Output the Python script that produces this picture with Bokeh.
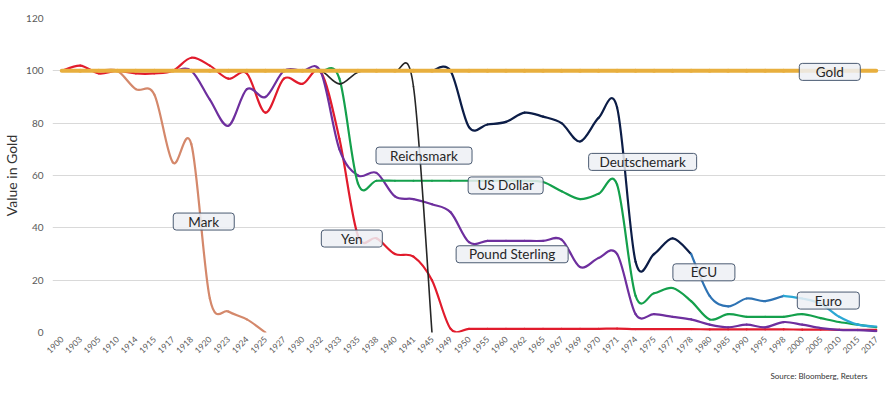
import math
from bokeh.plotting import figure
from bokeh.models import Range1d, FixedTicker, Title, ColumnDataSource
from bokeh.core.properties import value
from bokeh.embed import file_html
from bokeh.resources import INLINE

years = ["1900", "1903", "1905", "1910", "1914", "1915", "1917", "1918", "1920", "1923",
         "1924", "1925", "1927", "1930", "1932", "1933", "1935", "1938", "1940", "1941",
         "1945", "1949", "1950", "1955", "1960", "1962", "1965", "1967", "1969", "1970",
         "1971", "1974", "1975", "1977", "1978", "1980", "1985", "1990", "1995", "1998",
         "2000", "2005", "2010", "2015", "2017"]
N = len(years)
_ = None

gold = [100] * N
mark = [100, 100, 100, 100, 93, 91, 65, 72, 13, 8, 5, 0] + [_] * (N - 12)
yen = [100, 102, 99, 100, 99, 99, 100, 105, 102, 97, 99, 84, 97, 95, 99.5, 74, 37, 36, 30, 29,
       20, 1.5, 1.4, 1.4, 1.4, 1.4, 1.4, 1.4, 1.4, 1.4, 1.5, 1.3, 1.3, 1.3, 1.3, 1.2, 1.2,
       1.2, 1.2, 1.2, 1.1, 1.1, 1.0, 1.0, 1.0]
pound = [100, 100, 100, 100, 100, 100, 100, 100, 89, 79, 93, 90, 100, 100, 99.5, 70, 60, 61,
         52, 51, 49, 46, 34.5, 35, 35, 35, 35, 35.5, 25, 28.5, 30, 7, 7, 6, 5, 3, 2, 3, 2, 4,
         3, 1.7, 1, 0.9, 0.5]
usd = [100, 100, 100, 100, 100, 100, 100, 100, 100, 100, 100, 100, 100, 100, 100, 97, 57,
       58, 58, 58, 58, 58, 58, 58, 58, 58, 57.5, 54, 51, 53, 56.5, 14, 15, 17, 12, 5, 7, 6, 6,
       6, 7, 5.5, 4, 3, 2]
reichsmark = [_] * 10 + [100, 100, 100, 100, 100, 95, 99.5, 100, 100, 94, 0] + [_] * (N - 21)
deutschemark = [_] * 20 + [100, 100, 78.5, 79.5, 80.5, 84, 82.5, 80, 73, 82, 86, 27, 30, 36,
                           30] + [_] * (N - 35)
ecu = [_] * 34 + [30, 14, 10, 13, 12, 14] + [_] * (N - 40)
euro = [_] * 39 + [14, 13, 11, 6, 3, 2.3]

series = [
    ("Mark", mark, "#D4886B", 2.2),
    ("Yen", yen, "#E11B2C", 2.2),
    ("Pound Sterling", pound, "#6E2F9E", 2.2),
    ("US Dollar", usd, "#14A04C", 2.2),
    ("Reichsmark", reichsmark, "#262626", 1.6),
    ("Deutschemark", deutschemark, "#0C1D47", 2.2),
    ("ECU", ecu, "#2E73B4", 2.2),
    ("Euro", euro, "#2BA8D4", 2.2),
    ("Gold", gold, "#E8AF3E", 4.0),
]

# label boxes (annotation anchors in axis units)
label_names = ["Mark", "Yen", "Reichsmark", "US Dollar", "Pound Sterling", "Deutschemark",
               "ECU", "Euro", "Gold"]
label_x = [7.67, 15.67, 19.57, 23.98, 24.33, 31.38, 34.69, 41.41, 41.49]
label_y = [42.4, 35.9, 67.6, 56.2, 29.9, 65.2, 23.0, 12.2, 99.6]
label_w = [61, 61, 96, 75, 112, 108, 62, 62, 61]

p = figure(width=894, height=395, output_backend="svg", toolbar_location=None,
           x_range=Range1d(-0.5, N - 0.5), y_range=Range1d(0, 120),
           min_border_left=48, min_border_right=9, min_border_top=18, min_border_bottom=63)
p.outline_line_color = None
p.background_fill_color = "white"
p.border_fill_color = "white"
p.xgrid.grid_line_color = None
p.ygrid.grid_line_color = "#D9D9D9"
p.ygrid.grid_line_width = 1

p.yaxis.ticker = FixedTicker(ticks=[0, 20, 40, 60, 80, 100, 120])
p.yaxis.axis_line_color = None
p.yaxis.major_tick_line_color = None
p.yaxis.minor_tick_line_color = None
p.yaxis.major_tick_out = 0
p.yaxis.minor_tick_out = 0
p.yaxis.major_label_text_font = "Lato"
p.yaxis.major_label_text_font_size = "10px"
p.yaxis.major_label_text_color = "#595959"
p.yaxis.major_label_standoff = 9
p.yaxis.axis_label = "Value in Gold"
p.yaxis.axis_label_text_font = "Lato"
p.yaxis.axis_label_text_font_size = "14px"
p.yaxis.axis_label_text_font_style = "normal"
p.yaxis.axis_label_text_color = "#333333"
p.yaxis.axis_label_standoff = 3

p.xaxis.ticker = FixedTicker(ticks=list(range(N)))
p.xaxis.major_label_overrides = {i: y for i, y in enumerate(years)}
p.xaxis.major_label_orientation = math.pi / 4
p.xaxis.axis_line_color = None
p.xaxis.major_tick_line_color = None
p.xaxis.minor_tick_line_color = None
p.xaxis.major_tick_out = 0
p.xaxis.minor_tick_out = 0
p.xaxis.major_label_text_font = "Lato"
p.xaxis.major_label_text_font_size = "8.5px"
p.xaxis.major_label_text_color = "#595959"
p.xaxis.major_label_standoff = 5

for name, vals, color, lw in series:
    pts = [(i, v) for i, v in enumerate(vals) if v is not None]
    x0, y0, x1, y1, cx0, cy0, cx1, cy1 = [], [], [], [], [], [], [], []
    n = len(pts)
    for k in range(n - 1):
        pa = pts[k - 1] if k > 0 else pts[k]
        pb = pts[k]
        pc = pts[k + 1]
        pd = pts[k + 2] if k + 2 < n else pts[k + 1]
        x0.append(pb[0]); y0.append(pb[1])
        x1.append(pc[0]); y1.append(pc[1])
        cx0.append(pb[0] + (pc[0] - pa[0]) / 6.0)
        cy0.append(pb[1] + (pc[1] - pa[1]) / 6.0)
        cx1.append(pc[0] - (pd[0] - pb[0]) / 6.0)
        cy1.append(pc[1] - (pd[1] - pb[1]) / 6.0)
    src = ColumnDataSource(dict(x0=x0, y0=y0, x1=x1, y1=y1, cx0=cx0, cy0=cy0, cx1=cx1, cy1=cy1))
    p.bezier(x0="x0", y0="y0", x1="x1", y1="y1", cx0="cx0", cy0="cy0", cx1="cx1", cy1="cy1",
             source=src, line_color=color, line_width=lw, line_cap="round")

lsrc = ColumnDataSource(dict(x=label_x, y=label_y, w=label_w, t=label_names))
p.rect(x="x", y="y", width="w", height=17, width_units="screen", height_units="screen",
       source=lsrc, fill_color="#EDF0F4", fill_alpha=0.85, line_color="#4B5B72",
       line_width=1, border_radius=3)
p.text(x="x", y="y", text="t", source=lsrc, text_align="center", text_baseline="middle",
       text_font=value("Lato"), text_font_size="13.5px", text_color="#262626")

src_title = Title(text="Source: Bloomberg, Reuters", align="right", offset=18, standoff=19,
                  text_font="Lato", text_font_size="8px", text_font_style="normal",
                  text_color="#333333")
p.add_layout(src_title, "below")

open("out.html", "w").write(file_html(p, INLINE))
